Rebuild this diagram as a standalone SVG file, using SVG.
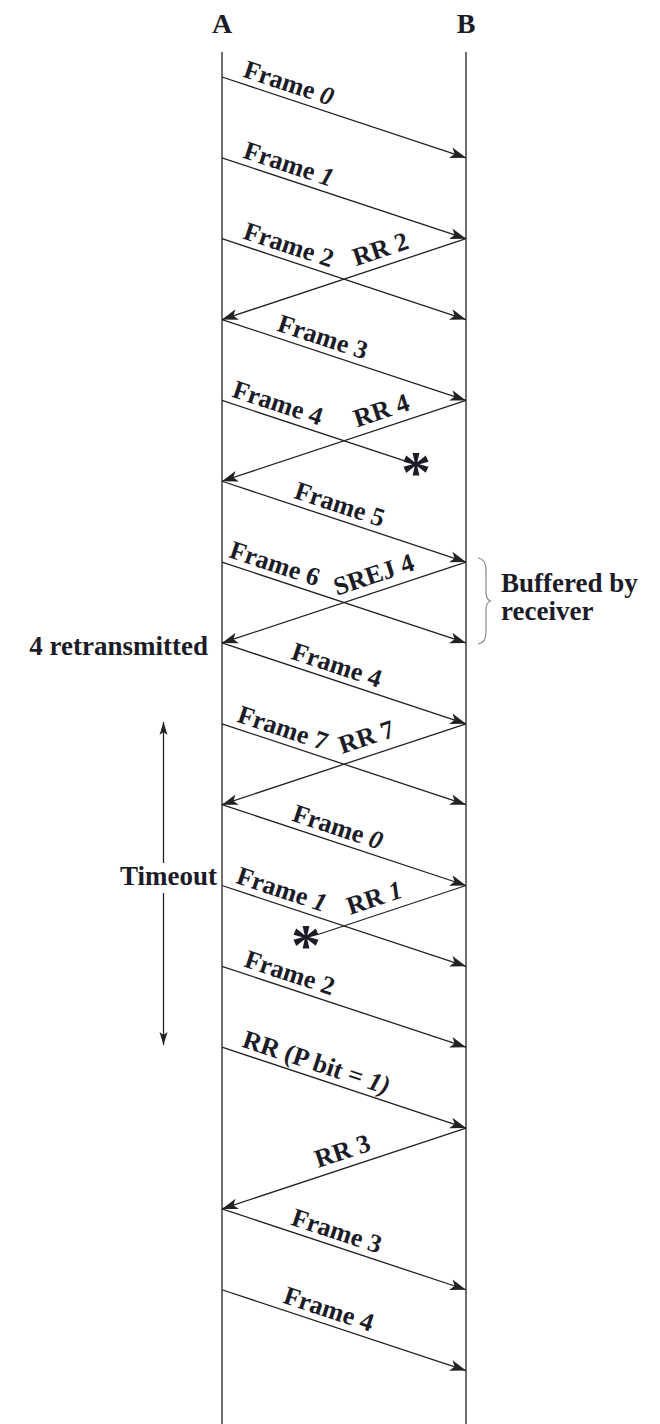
<svg xmlns="http://www.w3.org/2000/svg" width="660" height="1424" viewBox="0 0 660 1424">
<defs>
<style>
.t{font-family:"Liberation Serif","Times New Roman",serif;font-weight:bold;fill:#1c1c28}
.lbl{font-size:26px}
.side{font-size:27px}
.hd{font-size:28px;text-anchor:middle}
.life{stroke:#222;stroke-width:1.3;fill:none}
.msg{stroke:#222;stroke-width:1.3;fill:none;marker-end:url(#ah)}
.lost{stroke:#222;stroke-width:1.3;fill:none}
.tmo{stroke:#222;stroke-width:1.3;fill:none;marker-end:url(#ahs)}
.ast{font-family:"Liberation Serif","Times New Roman",serif;font-weight:bold;font-size:60px;fill:#1c1c28;text-anchor:middle}
.it{font-style:italic}
</style>
<marker id="ah" markerUnits="userSpaceOnUse" markerWidth="20" markerHeight="12" refX="18" refY="6" orient="auto" viewBox="0 0 20 12"><path d="M18,6 L2,0.5 L6,6 L2,11.5 Z" fill="#222"/></marker>
<marker id="ahs" markerUnits="userSpaceOnUse" markerWidth="16" markerHeight="10" refX="14" refY="5" orient="auto" viewBox="0 0 16 10"><path d="M14,5 L1,1 L4,5 L1,9 Z" fill="#222"/></marker>
</defs>
<rect width="660" height="1424" fill="#fff"/>

<g id="station-A">
<text class="t hd" x="222" y="33">A</text>
<line class="life" x1="222" y1="52" x2="222" y2="1424"/>
</g>
<g id="station-B">
<text class="t hd" x="466" y="33">B</text>
<line class="life" x1="466" y1="52" x2="466" y2="1424"/>
</g>

<g id="connectors">
<line class="msg" x1="222" y1="77" x2="466" y2="157.85"/>
<line class="msg" x1="222" y1="157.85" x2="466" y2="238.7"/>
<line class="msg" x1="222" y1="238.7" x2="466" y2="319.55"/>
<line class="msg" x1="466" y1="238.7" x2="222" y2="319.55"/>
<line class="msg" x1="222" y1="319.55" x2="466" y2="400.4"/>
<line class="lost" x1="222" y1="400.4" x2="404" y2="460.7"/>
<line class="msg" x1="466" y1="400.4" x2="222" y2="481.25"/>
<line class="msg" x1="222" y1="481.25" x2="466" y2="562.1"/>
<line class="msg" x1="222" y1="562.1" x2="466" y2="642.95"/>
<line class="msg" x1="466" y1="562.1" x2="222" y2="642.95"/>
<line class="msg" x1="222" y1="642.95" x2="466" y2="723.8"/>
<line class="msg" x1="222" y1="723.8" x2="466" y2="804.65"/>
<line class="msg" x1="466" y1="723.8" x2="222" y2="804.65"/>
<line class="msg" x1="222" y1="804.65" x2="466" y2="885.5"/>
<line class="msg" x1="222" y1="885.5" x2="466" y2="966.35"/>
<line class="lost" x1="466" y1="885.5" x2="318" y2="934.5"/>
<line class="msg" x1="222" y1="966.35" x2="466" y2="1047.2"/>
<line class="msg" x1="222" y1="1047.2" x2="466" y2="1128.05"/>
<line class="msg" x1="466" y1="1128.05" x2="222" y2="1208.9"/>
<line class="msg" x1="222" y1="1208.9" x2="466" y2="1289.75"/>
<line class="msg" x1="222" y1="1289.75" x2="466" y2="1370.6"/>
<line class="tmo" x1="163.5" y1="863" x2="163.5" y2="722"/>
<line class="tmo" x1="163.5" y1="893" x2="163.5" y2="1045"/>
</g>

<g id="message-labels">
<text class="t lbl" transform="translate(242,76.6) rotate(18.33)">Frame <tspan class="it">0</tspan></text>
<text class="t lbl" transform="translate(242,157.5) rotate(18.33)">Frame <tspan class="it">1</tspan></text>
<text class="t lbl" transform="translate(242,238.3) rotate(18.33)">Frame 2</text>
<text class="t lbl" transform="translate(356,266.2) rotate(-18.33)">RR 2</text>
<text class="t lbl" transform="translate(276,330.4) rotate(18.33)">Frame 3</text>
<text class="t lbl" transform="translate(231,396.4) rotate(18.33)">Frame 4</text>
<text class="t lbl" transform="translate(357,427.5) rotate(-18.33)">RR 4</text>
<text class="t lbl" transform="translate(293,497.8) rotate(18.33)">Frame 5</text>
<text class="t lbl" transform="translate(228,557.1) rotate(18.33)">Frame 6</text>
<text class="t lbl" transform="translate(337,595.8) rotate(-18.33)">SREJ 4</text>
<text class="t lbl" transform="translate(290,658.5) rotate(18.33)">Frame 4</text>
<text class="t lbl" transform="translate(236,721.4) rotate(18.33)">Frame 7</text>
<text class="t lbl" transform="translate(342,754) rotate(-18.33)">RR 7</text>
<text class="t lbl" transform="translate(291,820.5) rotate(18.33)">Frame <tspan class="it">0</tspan></text>
<text class="t lbl" transform="translate(235,882.8) rotate(18.33)">Frame <tspan class="it">1</tspan></text>
<text class="t lbl" transform="translate(350,914.9) rotate(-18.33)">RR <tspan class="it">1</tspan></text>
<text class="t lbl" transform="translate(243,966.3) rotate(18.33)">Frame 2</text>
<text class="t lbl" transform="translate(241,1046.5) rotate(18.33)">RR (P bit = <tspan class="it">1)</tspan></text>
<text class="t lbl" transform="translate(318,1168.1) rotate(-18.33)">RR 3</text>
<text class="t lbl" transform="translate(290,1224.4) rotate(18.33)">Frame 3</text>
<text class="t lbl" transform="translate(282,1302.6) rotate(18.33)">Frame 4</text>
</g>

<g id="lost-marks">
<text class="ast" x="416" y="492">*</text>
<text class="ast" x="306" y="965">*</text>
</g>

<g id="note-retransmitted">
<text class="t side" x="208" y="655" text-anchor="end">4 retransmitted</text>
</g>
<g id="note-timeout">
<text class="t side" x="217" y="885" text-anchor="end">Timeout</text>
</g>
<g id="note-buffered">
<path d="M478,558 Q486,559 486,570 L486,592 Q486,600 491,601 Q486,602 486,610 L486,632 Q486,643 478,644" fill="none" stroke="#888" stroke-width="1.2"/>
<text class="t side" x="501" y="592">Buffered by</text>
<text class="t side" x="501" y="620">receiver</text>
</g>
</svg>
